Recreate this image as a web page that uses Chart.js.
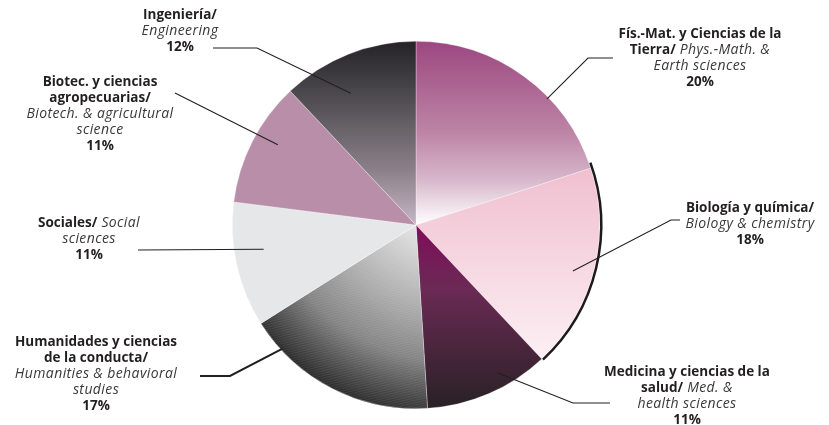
<!DOCTYPE html>
<html>
<head>
<meta charset="utf-8">
<script src="https://cdn.jsdelivr.net/npm/chart.js@4.4.0/dist/chart.umd.min.js"></script>
<style>
  html, body { margin: 0; padding: 0; background: #fff; }
  #wrap { width: 829px; height: 425px; }
</style>
</head>
<body>
<div id="wrap"><canvas id="pie"></canvas></div>
<script>
// Datos del gráfico
const categories = ['Fís.-Mat. y Ciencias de la Tierra', 'Biología y química', 'Medicina y ciencias de la salud',
    'Humanidades y ciencias de la conducta', 'Sociales', 'Biotec. y ciencias agropecuarias', 'Ingeniería'];
const categoriesEn = ['Phys.-Math. & Earth sciences', 'Biology & chemistry', 'Med. & health sciences',
    'Humanities & behavioral studies', 'Social sciences', 'Biotech. & agricultural science', 'Engineering'];
const shares = [20, 18, 11, 17, 11, 11, 12];

// Texto de cada etiqueta por línea: [negrita, cursiva]
const labelLines = [
    [['Fís.-Mat. y Ciencias de la', ''], ['Tierra/', ' Phys.-Math. &'], ['', 'Earth sciences']],
    [['Biología y química/', ''], ['', 'Biology & chemistry']],
    [['Medicina y ciencias de la', ''], ['salud/', ' Med. &'], ['', 'health sciences']],
    [['Humanidades y ciencias', ''], ['de la conducta/', ''], ['', 'Humanities & behavioral'], ['', 'studies']],
    [['Sociales/', ' Social'], ['', 'sciences']],
    [['Biotec. y ciencias', ''], ['agropecuarias/', ''], ['', 'Biotech. & agricultural'], ['', 'science']],
    [['Ingeniería/', ''], ['', 'Engineering']]
];

// Posición de etiquetas y líneas guía (f = fracción del ángulo, rf = fracción del radio)
const labelLayout = [
    { cx: 700, y0: 34,  f: 0.64, rf: 0.99, pts: [[588, 58], [613, 58]] },
    { cx: 750, y0: 208, f: 0.53, rf: 0.89, pts: [[671, 220], [680, 220]] },
    { cx: 687, y0: 372, f: 0.36, rf: 0.92, pts: [[573, 403], [610, 403]] },
    { cx: 96,  y0: 342, f: 0.83, rf: 0.99, pts: [[230, 376], [200, 376]], lw: 2 },
    { cx: 89,  y0: 223, f: 0.59, rf: 0.84, pts: [[138, 250]] },
    { cx: 100, y0: 82,  f: 0.58, rf: 0.87, pts: [[175, 93]] },
    { cx: 180, y0: 15,  f: 0.39, rf: 0.80, pts: [[257, 48], [213, 48]] }
];

const LINE_H = 16;
const FONT = '"Open Sans", "Noto Sans", sans-serif';
const BOLD = 'bold 13.5px ' + FONT;
const ITAL = 'italic 14px ' + FONT;

function geom(chart) {
    const a = chart.chartArea;
    return { x: (a.left + a.right) / 2, y: (a.top + a.bottom) / 2,
             r: Math.min(a.right - a.left, a.bottom - a.top) / 2 };
}

// Colores de cada sector (degradados como en el original)
function sliceColor(context) {
    const chart = context.chart;
    const flat = ['#c48aa8', '#f3cdd9', '#5a2a48', '#777777', '#e6e7e8', '#b98ea9', '#6e6870'];
    if (!chart.chartArea) return flat[context.dataIndex];
    const ctx = chart.ctx;
    const g = geom(chart);
    let grad;
    switch (context.dataIndex) {
        case 0:
            grad = ctx.createLinearGradient(0, g.y - g.r, 0, g.y);
            grad.addColorStop(0, '#9c4780');
            grad.addColorStop(0.5, '#bd85a6');
            grad.addColorStop(0.75, '#d7b6ca');
            grad.addColorStop(1, '#ffffff');
            return grad;
        case 1:
            grad = ctx.createLinearGradient(0, g.y - 0.45 * g.r, 0, g.y + 0.8 * g.r);
            grad.addColorStop(0, '#eeb9ca');
            grad.addColorStop(1, '#fdf3f6');
            return grad;
        case 2:
            grad = ctx.createLinearGradient(0, g.y, 0, g.y + g.r);
            grad.addColorStop(0, '#7f0d5a');
            grad.addColorStop(0.35, '#6a2a55');
            grad.addColorStop(1, '#282124');
            return grad;
        case 3: {
            const px = g.x + 0.2 * g.r, py = g.y - 0.3 * g.r;
            grad = ctx.createRadialGradient(px, py, 0, px, py, 1.41 * g.r);
            grad.addColorStop(0.25, '#e6e6e6');
            grad.addColorStop(0.56, '#aaaaaa');
            grad.addColorStop(0.74, '#858585');
            grad.addColorStop(0.92, '#3c3c3c');
            grad.addColorStop(1, '#1c1c1c');
            return grad;
        }
        case 4:
            return '#e6e7e8';
        case 5:
            return '#b98ea9';
        case 6:
            grad = ctx.createLinearGradient(0, g.y - g.r, 0, g.y);
            grad.addColorStop(0, '#252326');
            grad.addColorStop(0.3, '#4d4a50');
            grad.addColorStop(0.7, '#8b8089');
            grad.addColorStop(1, '#c5b6c5');
            return grad;
    }
}

// Borde oscuro del lado derecho + etiquetas con líneas guía
const labelsPlugin = {
    id: 'labelsPlugin',
    afterDatasetsDraw(chart) {
        const ctx = chart.ctx;
        const arcs = chart.getDatasetMeta(0).data;

        // trama fina en Humanidades
        const h = arcs[3];
        ctx.save();
        ctx.beginPath();
        ctx.moveTo(h.x, h.y);
        ctx.arc(h.x, h.y, h.outerRadius, h.startAngle, h.endAngle);
        ctx.closePath();
        ctx.clip();
        ctx.strokeStyle = 'rgba(255,255,255,0.08)';
        ctx.lineWidth = 1;
        for (let k = -400; k < 400; k += 2.5) {
            ctx.beginPath();
            ctx.moveTo(h.x - 250, h.y + k);
            ctx.lineTo(h.x + 250, h.y + k - 125);
            ctx.stroke();
        }
        ctx.restore();

        // sombra del borde derecho (sector Biología)
        const b = arcs[1];
        ctx.save();
        ctx.strokeStyle = '#1d1a1c';
        ctx.lineWidth = 2.5;
        ctx.beginPath();
        ctx.arc(b.x + 0.5, b.y, b.outerRadius + 1, b.startAngle - 0.03, b.endAngle);
        ctx.stroke();
        ctx.restore();

        arcs.forEach((arc, i) => {
            const lay = labelLayout[i];
            const ang = arc.startAngle + lay.f * (arc.endAngle - arc.startAngle);
            const r = arc.outerRadius * lay.rf;
            ctx.save();
            ctx.strokeStyle = '#231f20';
            ctx.lineWidth = lay.lw || 1.1;
            ctx.beginPath();
            ctx.moveTo(arc.x + r * Math.cos(ang), arc.y + r * Math.sin(ang));
            lay.pts.forEach(p => ctx.lineTo(p[0], p[1]));
            ctx.stroke();
            ctx.restore();

            const lines = labelLines[i].concat([[shares[i] + '%', '']]);
            ctx.save();
            ctx.textBaseline = 'middle';
            ctx.textAlign = 'left';
            lines.forEach((ln, j) => {
                const y = lay.y0 + j * LINE_H;
                ctx.font = BOLD;
                ctx.letterSpacing = '0px';
                const wb = ctx.measureText(ln[0]).width;
                ctx.font = ITAL;
                ctx.letterSpacing = '0.4px';
                const wi = ctx.measureText(ln[1]).width;
                const x = lay.cx - (wb + wi) / 2;
                ctx.font = BOLD;
                ctx.letterSpacing = '0px';
                ctx.fillStyle = '#231f20';
                ctx.fillText(ln[0], x, y);
                ctx.font = ITAL;
                ctx.letterSpacing = '0.4px';
                ctx.fillStyle = '#3b3839';
                ctx.fillText(ln[1], x + wb, y);
            });
            ctx.restore();
        });
    }
};

new Chart(document.getElementById('pie'), {
    type: 'pie',
    data: {
        labels: categories,
        datasets: [{
            data: shares,
            backgroundColor: sliceColor,
            borderWidth: 0.6,
            borderColor: 'rgba(255,255,255,0.5)'
        }]
    },
    options: {
        responsive: true,
        maintainAspectRatio: false,
        animation: false,
        layout: { padding: { left: 200, right: 197, top: 41, bottom: 16 } },
        plugins: {
            legend: { display: false },
            tooltip: { enabled: false }
        }
    },
    plugins: [labelsPlugin]
});
</script>
</body>
</html>
